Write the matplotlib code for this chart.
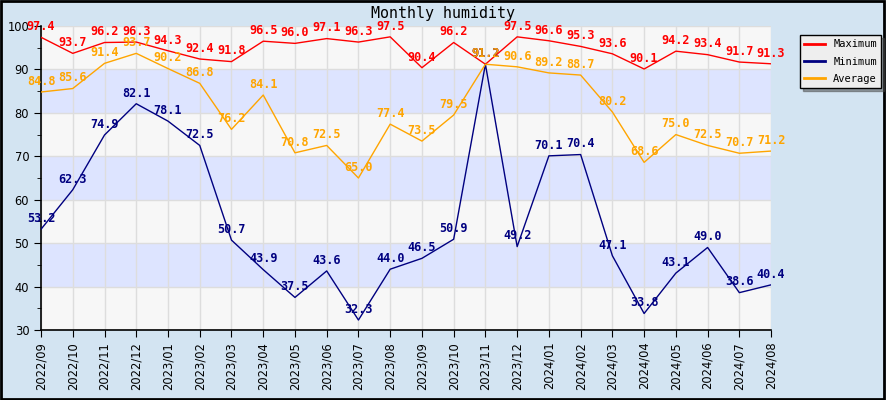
import matplotlib.pyplot as plt
from matplotlib.ticker import MultipleLocator

months = ["2022/09", "2022/10", "2022/11", "2022/12", "2023/01", "2023/02", "2023/03",
          "2023/04", "2023/05", "2023/06", "2023/07", "2023/08", "2023/09", "2023/10",
          "2023/11", "2023/12", "2024/01", "2024/02", "2024/03", "2024/04", "2024/05",
          "2024/06", "2024/07", "2024/08"]
maximum = [97.4, 93.7, 96.2, 96.3, 94.3, 92.4, 91.8, 96.5, 96.0, 97.1, 96.3, 97.5,
           90.4, 96.2, 91.2, 97.5, 96.6, 95.3, 93.6, 90.1, 94.2, 93.4, 91.7, 91.3]
minimum = [53.2, 62.3, 74.9, 82.1, 78.1, 72.5, 50.7, 43.9, 37.5, 43.6, 32.3, 44.0,
           46.5, 50.9, 91.2, 49.2, 70.1, 70.4, 47.1, 33.8, 43.1, 49.0, 38.6, 40.4]
average = [84.8, 85.6, 91.4, 93.7, 90.2, 86.8, 76.2, 84.1, 70.8, 72.5, 65.0, 77.4,
           73.5, 79.5, 91.2, 90.6, 89.2, 88.7, 80.2, 68.6, 75.0, 72.5, 70.7, 71.2]

series = [("Maximum", maximum, "#ff0000"),
          ("Minimum", minimum, "#000080"),
          ("Average", average, "#ffa500")]

bg = "#d3e4f2"
fig = plt.figure(figsize=(8.86, 4.0), dpi=100, facecolor=bg)
ax = fig.add_axes([0.0463, 0.175, 0.824, 0.76])
ax.set_facecolor("#f7f7f7")

# alternating horizontal bands
for lo in range(30, 100, 10):
    if (lo // 10) % 2 == 0:
        ax.axhspan(lo, lo + 10, color="#dde4ff", zorder=0, lw=0)

x = list(range(len(months)))
for name, vals, color in series:
    ax.plot(x, vals, color=color, lw=1, label=name, zorder=3)
    for xi, v in zip(x, vals):
        ax.annotate(f"{v:.1f}", (xi, v), xytext=(0, 3), textcoords="offset points",
                    ha="center", va="bottom", color=color, fontsize=8.5,
                    family="DejaVu Sans Mono", fontweight="bold", zorder=4)

ax.set_xlim(0, len(months) - 1)
ax.set_ylim(30, 100)
ax.set_xticks(x)
ax.set_xticklabels(months, rotation=90, fontsize=8.3)
ax.yaxis.set_major_locator(MultipleLocator(10))
ax.yaxis.set_minor_locator(MultipleLocator(5))
ax.tick_params(axis="y", labelsize=8.3, length=5)
ax.tick_params(axis="y", which="minor", length=3)
ax.tick_params(axis="x", length=5)
ax.grid(True, color="#dddddd", lw=1, zorder=1)
ax.set_axisbelow(True)
for s in ["top", "right"]:
    ax.spines[s].set_visible(False)
for s in ["left", "bottom"]:
    ax.spines[s].set_linewidth(1.2)

fig.text(0.5, 0.967, "Monthly humidity", ha="center", va="center",
         family="DejaVu Sans Mono", fontsize=10.8)

leg = fig.legend(loc="upper left", bbox_to_anchor=(0.897, 0.925), fancybox=False,
                 shadow=True, prop={"family": "DejaVu Sans Mono", "size": 7.5},
                 handlelength=2, labelspacing=0.7, facecolor="#eeeeee",
                 edgecolor="black", framealpha=1)
for line in leg.get_lines():
    line.set_linewidth(2)

# outer border
fig.patches.append(plt.Rectangle((0.001, 0.002), 0.997, 0.996, transform=fig.transFigure,
                                 fill=False, edgecolor="black", lw=2))

fig.savefig("out.png", dpi=100, facecolor=bg)
